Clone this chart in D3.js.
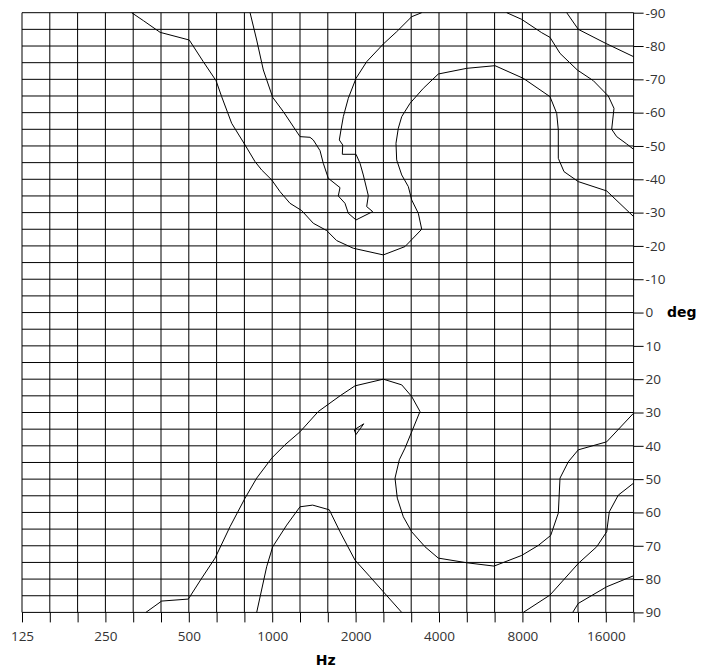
<!DOCTYPE html>
<html>
<head>
<meta charset="utf-8">
<script src="https://cdn.jsdelivr.net/npm/d3@7"></script>
<style>
  html, body { margin: 0; padding: 0; background: #fff; }
  svg { display: block; }
</style>
</head>
<body>
<svg id="chart" width="701" height="672"></svg>
<script>
// Frequency axis: 125 Hz up to 22 third-octave bands above it
const freqMin = 125;
const bandsPerOctave = 3;
const bandCount = 22;
const freqMax = freqMin * Math.pow(2, bandCount / bandsPerOctave);

// Axis labels
const freqLabels = [125, 250, 500, 1000, 2000, 4000, 8000, 16000];
const angleLabels = [-90, -80, -70, -60, -50, -40, -30, -20, -10, 0, 10, 20, 30, 40, 50, 60, 70, 80, 90];
const angleGridStep = 5;

// Contour lines, each point is [frequency Hz, angle deg]
const upperOuter = [
  [311, -90], [343, -87.6], [394, -84.1], [502, -81.8], [564, -75.3], [627, -69.6],
  [657, -64.8], [714, -56.8], [798, -50.3], [867, -45.3], [916, -42.8], [996, -39.8],
  [1067, -36.3], [1159, -32.8], [1278, -30.6], [1407, -26.8], [1573, -24.6], [1709, -21.6],
  [1962, -19.3], [2518, -17.3], [3015, -19.8], [3465, -25.0], [3368, -29.8], [3188, -33.8],
  [3100, -37.8], [2934, -41.3], [2814, -45.8], [2798, -50.8], [2852, -55.3], [2934, -58.8],
  [3144, -62.8], [3511, -67.3], [3977, -71.6], [5036, -73.3], [6371, -74.1], [8060, -70.3],
  [10062, -64.8], [10639, -59.8], [10782, -54.8], [10782, -46.3], [11304, -42.3],
  [12732, -39.3], [16120, -36.5], [freqMax, -28.8]
];

const upperInner = [
  [832, -90], [879, -81.8], [929, -72.8], [1004, -64.6], [1097, -60.3], [1260, -52.8],
  [1369, -52.6], [1407, -51.8], [1488, -48.6], [1529, -44.8], [1594, -40.3], [1757, -37.5],
  [1732, -35.0], [1831, -32.8], [1882, -29.8], [2007, -27.8], [2305, -30.3], [2193, -31.8],
  [2223, -35.1], [2132, -41.3], [2075, -44.8], [2007, -47.5], [1791, -47.5], [1797, -50.3],
  [1747, -51.8], [1771, -54.8], [1806, -58.8], [1882, -64.3], [2007, -70.3], [2193, -75.3],
  [2518, -80.6], [2814, -84.3], [3188, -88.8], [3465, -90]
];

const upperRight = [
  [7022, -90], [7953, -88.0], [9392, -84.0], [10062, -82.6], [10935, -77.8], [12627, -72.8],
  [14422, -69.6], [16334, -65.0], [17128, -61.3], [16803, -55.0], [17517, -52.8],
  [19036, -50.6], [freqMax, -49.0]
];

const upperCorner = [
  [11562, -90], [12732, -85.0], [15987, -80.8], [freqMax, -76.8]
];

const lowerOuter = [
  [350, 90], [399, 86.6], [498, 86.0], [557, 79.7], [622, 73.7], [704, 64.3], [798, 55.7],
  [879, 49.7], [996, 43.7], [1112, 39.7], [1260, 35.8], [1467, 29.7], [1757, 25.0],
  [1990, 22.0], [2518, 20.0], [2934, 21.7], [3188, 25.2], [3416, 29.7], [3188, 35.8],
  [3015, 40.7], [2876, 44.2], [2775, 49.7], [2828, 55.7], [2973, 61.3], [3188, 65.8],
  [3561, 70.3], [3977, 73.7], [5036, 75.1], [6318, 76.1], [7953, 72.9], [9130, 69.9],
  [10121, 66.9], [10782, 60.2], [10935, 49.7], [11716, 44.8], [12732, 41.2],
  [16120, 38.8], [freqMax, 30.2]
];

const lowerInner = [
  [879, 90], [955, 76.3], [1004, 70.3], [1128, 63.8], [1260, 58.3], [1400, 57.8],
  [1607, 59.2], [1757, 65.8], [1990, 74.3], [2254, 79.3], [2518, 83.8], [2934, 90]
];

const lowerRight = [
  [8060, 90], [10062, 84.8], [12732, 75.3], [14834, 70.3], [16120, 65.8], [16472, 59.8],
  [17750, 54.8], [freqMax, 51.2]
];

const lowerCorner = [
  [12152, 90], [12732, 87.3], [16120, 82.3], [freqMax, 79.0]
];

// Small closed island near 2 kHz / 35 deg
const lowerIsland = [
  [1978, 35.2], [2140, 33.4], [2007, 36.6], [1978, 35.2]
];

const contourLines = [upperOuter, upperInner, upperRight, upperCorner,
                      lowerOuter, lowerInner, lowerRight, lowerCorner, lowerIsland];

// Layout
const plot = { left: 22, right: 633.6, top: 12.7, bottom: 612.4 };
const svg = d3.select("#chart");

const x = d3.scaleLog().base(2).domain([freqMin, freqMax]).range([plot.left, plot.right]);
const y = d3.scaleLinear().domain([-90, 90]).range([plot.top, plot.bottom]);

const bandFreqs = d3.range(bandCount + 1).map(k => freqMin * Math.pow(2, k / bandsPerOctave));
const angleGrid = d3.range(-90, 90 + angleGridStep, angleGridStep);

// Grid
const grid = svg.append("g").attr("stroke", "#000").attr("stroke-width", 1).attr("fill", "none");
grid.selectAll("line.h").data(angleGrid).join("line")
  .attr("class", "h")
  .attr("x1", plot.left).attr("x2", plot.right)
  .attr("y1", d => y(d)).attr("y2", d => y(d));
grid.selectAll("line.v").data(bandFreqs).join("line")
  .attr("class", "v")
  .attr("x1", d => x(d)).attr("x2", d => x(d))
  .attr("y1", plot.top).attr("y2", plot.bottom);

// Bottom axis: a tick at every third-octave band, labels at octaves
const xAxis = d3.axisBottom(x)
  .tickValues(bandFreqs)
  .tickSize(10)
  .tickFormat(d => {
    const hit = freqLabels.find(f => Math.abs(f - d) / f < 0.01);
    return hit ? String(hit) : "";
  });
const gx = svg.append("g").attr("transform", `translate(0,${plot.bottom})`).call(xAxis);
gx.select(".domain").remove();
gx.selectAll(".tick line").attr("stroke", "#000");
gx.selectAll(".tick text")
  .attr("dy", 0).attr("y", 29)
  .attr("font-family", "'Open Sans', sans-serif").attr("font-size", 13.5)
  .attr("fill", "#333");

// Right axis: angle labels every 10 degrees
const yAxis = d3.axisRight(y)
  .tickValues(angleLabels)
  .tickSize(10)
  .tickPadding(2)
  .tickFormat(d => String(d));
const gy = svg.append("g").attr("transform", `translate(${plot.right},0)`).call(yAxis);
gy.select(".domain").remove();
gy.selectAll(".tick line").attr("stroke", "#000");
gy.selectAll(".tick text")
  .attr("font-family", "'Open Sans', sans-serif").attr("font-size", 13.5)
  .attr("fill", "#333");

// Axis titles
svg.append("text")
  .attr("x", (plot.left + plot.right) / 2 - 2).attr("y", 665)
  .attr("text-anchor", "middle")
  .attr("font-family", "'DejaVu Sans', sans-serif").attr("font-weight", "bold")
  .attr("font-size", 14).attr("fill", "#000")
  .text("Hz");
svg.append("text")
  .attr("x", 667).attr("y", y(0) + 4.5)
  .attr("font-family", "'DejaVu Sans', sans-serif").attr("font-weight", "bold")
  .attr("font-size", 14).attr("fill", "#000")
  .text("deg");

// Contours
const line = d3.line().x(d => x(d[0])).y(d => y(d[1]));
svg.append("g").attr("fill", "none").attr("stroke", "#000").attr("stroke-width", 1)
  .selectAll("path").data(contourLines).join("path")
  .attr("d", line);
</script>
</body>
</html>
